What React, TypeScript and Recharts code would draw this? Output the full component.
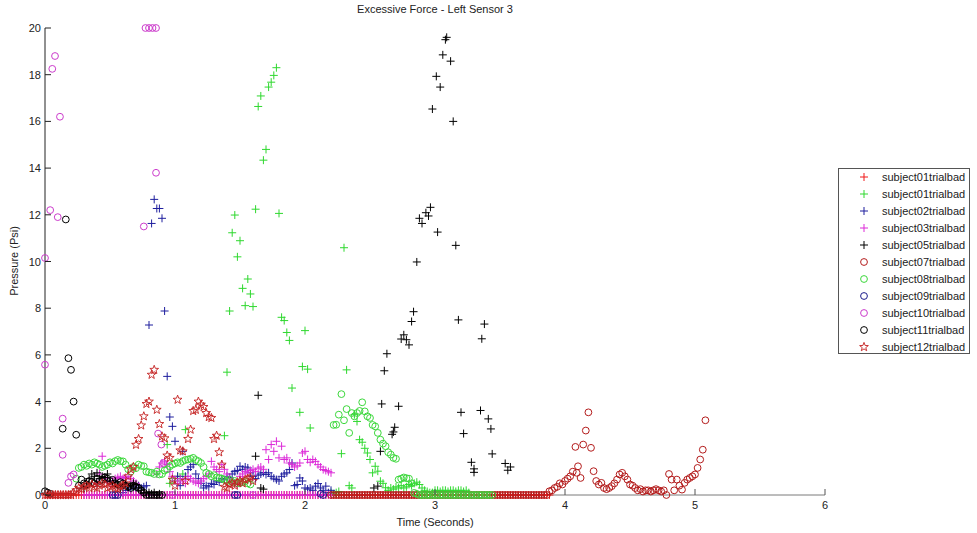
import { ScatterChart, Scatter, XAxis, YAxis } from "recharts";

// sensor sample period (s); every run below is a block of consecutive samples
const SAMPLE = 0.02;

type Run = { t0: number; psi: number[] };

const timeTicks = [0, 1, 2, 3, 4, 5, 6];
const psiTicks = [0, 2, 4, 6, 8, 10, 12, 14, 16, 18, 20];

/* ---------- subject01 (red +) ---------- */
const subject01aRuns: Run[] = [
  {
    t0: 0,
    psi: [
      0, 0, 0, 0, 0, 0, 0, 0, 0, 0, 0, 0, 0, 0, 0, 0, 0, 0, 0, 0,
      0, 0, 0, 0, 0, 0, 0, 0, 0, 0, 0, 0, 0, 0, 0, 0, 0, 0, 0, 0,
      0, 0, 0, 0, 0, 0, 0, 0, 0, 0, 0, 0, 0, 0, 0, 0, 0, 0, 0, 0,
      0, 0, 0, 0, 0, 0, 0, 0, 0, 0, 0, 0, 0, 0, 0, 0, 0, 0, 0, 0,
      0, 0, 0, 0, 0, 0, 0, 0, 0, 0, 0, 0, 0, 0, 0, 0, 0, 0, 0, 0,
      0, 0, 0, 0, 0, 0, 0, 0, 0, 0, 0, 0, 0, 0, 0, 0, 0, 0, 0, 0,
      0, 0, 0, 0, 0, 0, 0, 0, 0, 0, 0, 0, 0, 0, 0, 0, 0, 0, 0, 0,
      0, 0, 0, 0, 0, 0, 0, 0, 0, 0, 0, 0, 0, 0, 0, 0, 0, 0, 0, 0,
      0, 0, 0, 0, 0, 0, 0, 0, 0, 0, 0, 0, 0, 0, 0, 0, 0, 0, 0, 0,
      0, 0, 0, 0, 0, 0, 0, 0, 0, 0, 0, 0, 0, 0, 0,
    ],
  },
];

/* ---------- subject01 (green +) ---------- */
const subject01bRuns: Run[] = [
  { t0: 0.94, psi: [2.16, 0.5, 0.7, 0.6, 0.8, 0.7, 0.9, 2.8] },
  {
    t0: 1.38,
    psi: [
      2.54, 5.26, 7.88, 11.23, 11.99, 10.2, 10.89, 8.85, 8.11, 9.25, 8.61, 8.07,
      12.24, 16.64, 17.09, 14.34, 14.8, 17.47, 17.68, 17.97, 18.3, 12.06, 7.61,
      7.47, 6.96, 6.62, 4.58,
    ],
  },
  { t0: 1.96, psi: [3.54, 5.5, 7.04, 5.39, 2.87] },
  {
    t0: 2.2,
    psi: [
      0.1, 0.05, 0.1, 0.15, 1.77, 10.59, 5.36, 0.4, 0.3, 3.44, 3.15, 2.37, 2.26,
      2.0, 1.8, 1.52, 0.95, 1.23, 1.02, 0.59, 0.5, 0.31, 0.2, 0.3, 0.25, 0.35,
      0.3, 0.4, 0.3, 0.35, 0.45, 0.4, 0.5, 0.55, 0.45, 0.3, 0.2, 0.15, 0.1, 0.1,
      0.2, 0.2, 0.15, 0.2, 0.2, 0.15, 0.2, 0.2, 0.15, 0.2, 0.2, 0.15, 0.2, 0.1,
    ],
  },
];

/* ---------- subject02 (blue +) ---------- */
const subject02Runs: Run[] = [
  {
    t0: 0.6,
    psi: [
      0.1, 0.2, 0.3, 0.25, 0.35, 0.3, 0.4, 0.3, 0.35, 0.4, 7.28, 11.63, 12.66,
      12.27, 12.27, 11.85, 7.88, 5.08, 3.34, 2.94, 2.3, 0.8, 0.4, 1.87, 0.8,
      1.09, 1.2, 1.3, 0.9, 0.7, 0.5, 0.3, 0.4, 0.35, 0.5, 0.45, 0.6, 0.55, 0.7,
      0.65, 0.8, 0.75, 0.9, 1.0, 1.05, 1.23, 1.1, 1.2, 1.16, 0.95, 0.8, 0.7,
      0.85, 0.9, 0.96, 0.88, 0.95, 0.8, 0.72, 0.66, 0.6, 0.8, 0.9, 0.95, 1.09,
      1.37, 0.4, 0.45, 0.73, 0.6, 0.3, 0.25, 0.3, 0.2, 0.38, 0.49, 0.3, 0.2,
      0.38, 0.1, 0.2,
    ],
  },
];

/* ---------- subject03 (magenta +) ---------- */
const subject03Runs: Run[] = [
  {
    t0: 0.3,
    psi: [
      0, 0, 0, 0, 0, 0, 0, 0, 0, 0, 0, 0, 0, 0, 0, 0, 0, 0, 0, 0,
      0, 0, 0, 0, 0, 0, 0, 0, 0, 0, 0, 0, 0, 0, 0, 0, 0, 0, 0, 0,
      0, 0, 0, 0, 0, 0, 0, 0, 0, 0, 0, 0, 0, 0, 0, 0, 0, 0, 0, 0,
      0, 0, 0, 0, 0, 0, 0, 0, 0, 0, 0, 0, 0, 0, 0, 0, 0, 0, 0, 0,
      0, 0, 0, 0, 0, 0, 0, 0, 0, 0, 0, 0, 0, 0, 0, 0,
    ],
  },
  {
    t0: 0.4,
    psi: [0.5, 0.9, 1.66, 0.7, 0.6, 0.5, 0.6, 0.7, 0.75, 0.8, 0.7, 0.75, 0.8, 0.7, 0.6, 0.5],
  },
  {
    t0: 0.86,
    psi: [
      0.9, 1.2, 1.37, 1.45, 1.3, 1.0, 0.8, 0.6, 0.5, 0.7, 0.6, 0.5, 0.8, 0.7,
      0.6, 0.55, 0.5, 0.6, 0.7, 0.8, 0.9, 1.44, 1.2, 1.09, 1.0, 1.3, 1.1, 0.9,
      0.7, 0.6, 0.5, 0.45,
    ],
  },
  {
    t0: 1.5,
    psi: [
      0.8, 0.9, 1.0, 0.95, 1.05, 1.1, 1.0, 1.15, 1.2, 1.1, 1.94, 1.52, 2.16,
      1.87, 2.3, 1.59, 2.09, 1.52, 1.59, 1.37, 1.3, 1.2, 1.25, 1.37, 1.8, 1.87,
      1.52, 1.4, 1.52, 1.44, 1.3, 1.2, 1.09, 1.05, 1.0, 0.95,
    ],
  },
];

/* ---------- subject05 (black +) ---------- */
const subject05Runs: Run[] = [
  {
    t0: 0.3,
    psi: [
      0.3, 0.5, 0.7, 0.9, 0.8, 0.95, 0.7, 0.8, 0.75, 0.9, 0.6, 0.5, 0.55, 0.4,
      0.3, 0.45, 0.5, 0.35, 0.4, 0.5, 0.45, 0.3, 0.2, 0.1, 0.05, 0.1, 0.05, 0.1,
      0, 0.05,
    ],
  },
  { t0: 1.62, psi: [1.66, 4.27, 0.3, 0.25] },
  { t0: 2.53, psi: [0.3] },
  { t0: 2.56, psi: [0.38, 1.87] },
  { t0: 2.59, psi: [3.9, 5.32, 6.05] },
  { t0: 2.67, psi: [2.6, 2.9] },
  { t0: 2.68, psi: [2.7] },
  { t0: 2.72, psi: [3.8, 6.68, 6.86, 6.65, 6.43, 7.43] },
  { t0: 2.835, psi: [7.85] },
  { t0: 2.86, psi: [9.98, 11.85, 11.63] },
  { t0: 2.93, psi: [12.09, 11.95] },
  { t0: 2.965, psi: [12.32] },
  { t0: 2.98, psi: [16.53] },
  { t0: 3.01, psi: [17.93] },
  { t0: 3.02, psi: [11.26] },
  { t0: 3.04, psi: [17.47, 18.85, 19.5] },
  { t0: 3.09, psi: [19.6] },
  { t0: 3.12, psi: [18.58, 16.0, 10.69, 7.5, 3.54, 2.63] },
  { t0: 3.28, psi: [1.4, 1.12] },
  { t0: 3.3, psi: [0.97] },
  { t0: 3.35, psi: [3.62] },
  { t0: 3.36, psi: [6.69] },
  { t0: 3.38, psi: [7.32] },
  { t0: 3.41, psi: [3.26, 2.83] },
  { t0: 3.44, psi: [1.76] },
  { t0: 3.54, psi: [1.35, 1.06, 1.2] },
];

/* ---------- subject07 (dark red o) ---------- */
const subject07Runs: Run[] = [
  {
    t0: 2.2,
    psi: [
      0, 0, 0, 0, 0, 0, 0, 0, 0, 0, 0, 0, 0, 0, 0, 0, 0, 0, 0, 0,
      0, 0, 0, 0, 0, 0, 0, 0, 0, 0, 0, 0, 0, 0, 0, 0, 0, 0, 0, 0,
      0, 0, 0, 0, 0, 0, 0, 0, 0, 0, 0, 0, 0, 0, 0, 0, 0, 0, 0, 0,
      0, 0, 0, 0, 0, 0, 0, 0, 0, 0, 0, 0, 0, 0, 0, 0, 0, 0, 0, 0,
      0, 0, 0, 0,
    ],
  },
  {
    t0: 3.88,
    psi: [
      0.16, 0.2, 0.3, 0.35, 0.5, 0.45, 0.6, 0.7, 0.8, 1.0, 2.06, 1.23, 0.73,
      2.16, 2.76, 3.54, 2.02, 1.02, 0.6, 0.45, 0.52, 0.3, 0.25, 0.3, 0.38, 0.5,
      0.66, 0.88, 0.95, 0.8, 0.66, 0.45, 0.4, 0.3, 0.2, 0.25, 0.15, 0.2, 0.2,
      0.15, 0.2, 0.25, 0.2, 0.15, 0.2, 0, 0.9, 0.66, 0.2, 0.66, 0.4, 0.23, 0.52,
      0.66, 0.73, 0.8, 0.88, 1.16, 1.52, 1.94, 3.2,
    ],
  },
  { t0: 4.09, psi: [0.95] },
];

/* ---------- subject08 (green o) ---------- */
const subject08Runs: Run[] = [
  {
    t0: 0.24,
    psi: [
      0.7, 1.16, 1.2, 1.3, 1.25, 1.35, 1.3, 1.4, 1.35, 1.3, 1.2, 1.25, 1.3, 1.4,
      1.35, 1.45, 1.5, 1.45, 1.44, 1.3, 1.1, 1.0, 1.2, 1.15, 1.3, 1.25, 1.23,
      1.0, 0.97, 0.95, 0.9, 1.0, 0.88, 0.9, 1.05, 1.1, 1.23, 1.3, 1.35, 1.4,
      1.37, 1.45, 1.5, 1.52, 1.55, 1.59, 1.5, 1.45, 1.37, 1.2, 0.95, 0.9, 0.8,
      0.85, 0.75, 0.73, 0.7, 0.65, 0.6, 0.65, 0.55, 0.6, 0.5, 0.52, 0.55, 0.59,
      0.5, 0.45,
    ],
  },
  {
    t0: 2.22,
    psi: [
      3.0, 3.01, 3.44, 4.32, 3.2, 3.68, 2.66, 3.51, 3.37, 3.51, 3.6, 3.97, 3.58,
      3.37, 3.3, 3.0, 2.94, 2.66, 2.37, 2.2, 2.09, 1.83, 1.73, 1.59, 1.55,
    ],
  },
  { t0: 2.72, psi: [0.66, 0.7, 0.75, 0.72, 0.7, 0.5, 0.09, 0.05] },
  {
    t0: 2.88,
    psi: [
      0, 0, 0, 0, 0, 0, 0, 0, 0, 0, 0, 0, 0, 0, 0, 0, 0, 0, 0, 0,
      0, 0, 0, 0, 0, 0, 0, 0, 0,
    ],
  },
];

/* ---------- subject09 (navy o) ---------- */
const subject09Runs: Run[] = [
  { t0: 0.52, psi: [0, 0, 0] },
  { t0: 1.46, psi: [0, 0] },
  { t0: 2.12, psi: [0.05, 0] },
];

/* ---------- subject10 (magenta o) ---------- */
const subject10Runs: Run[] = [
  { t0: 0, psi: [5.58] },
  { t0: 0, psi: [10.15] },
  { t0: 0.04, psi: [12.2] },
  { t0: 0.056, psi: [18.25] },
  { t0: 0.077, psi: [18.8] },
  { t0: 0.098, psi: [11.9] },
  { t0: 0.115, psi: [16.2] },
  { t0: 0.136, psi: [3.27] },
  { t0: 0.136, psi: [1.72] },
  { t0: 0.18, psi: [0.52, 0.8, 0.88] },
  { t0: 0.76, psi: [11.5] },
  { t0: 0.773, psi: [20] },
  { t0: 0.8, psi: [20] },
  { t0: 0.827, psi: [20] },
  { t0: 0.854, psi: [20] },
  { t0: 0.854, psi: [13.8] },
  { t0: 0.87, psi: [2.63] },
  { t0: 0.895, psi: [2.16] },
  { t0: 0.91, psi: [1.37] },
  { t0: 0.98, psi: [0] },
  { t0: 1.6, psi: [0] },
];

/* ---------- subject11 (black o) ---------- */
const subject11Runs: Run[] = [
  { t0: 0, psi: [0.16, 0.1, 0.05] },
  { t0: 0.136, psi: [2.84] },
  { t0: 0.16, psi: [11.8, 5.86, 5.36, 4.0, 2.58] },
  {
    t0: 0.26,
    psi: [
      0.4, 0.66, 0.5, 0.45, 0.6, 0.55, 0.5, 0.7, 0.6, 0.65, 0.75, 0.7, 0.6,
      0.65, 0.5, 0.45, 0.55, 0.5, 0.4, 0.35, 0.3, 0.4, 0.35, 0.3, 0.2, 0.1, 0,
      0, 0, 0, 0, 0, 0,
    ],
  },
];

/* ---------- subject12 (red star) ---------- */
const subject12Runs: Run[] = [
  {
    t0: 0,
    psi: [
      0, 0, 0, 0, 0, 0, 0, 0, 0, 0, 0, 0.1, 0.2, 0.3, 0.25, 0.35, 0.4, 0.3,
      0.45, 0.35, 0.3, 0.4, 0.5, 0.45, 0.3, 0.35, 0.4, 0.3, 0.25, 0.35, 0.4,
      0.5, 0.8, 1.1, 1.2, 2.15, 2.4, 2.98, 3.37, 3.9, 4.0, 5.15, 5.36, 3.65,
      3.04, 2.51, 2.43, 1.69, 1.59, 0.66, 0.4, 4.08, 1.91, 1.87, 0.6, 2.4, 2.8,
      3.6, 3.65, 4.0, 3.87, 3.77, 3.51, 3.34, 3.3, 2.4, 2.54, 1.83, 1.3, 0.35,
      0.3, 0.45, 0.5, 0.4, 0.55, 0.6, 0.5, 0.65, 0.7, 0.75, 0.6,
    ],
  },
];

type Marker = "plus" | "circle" | "star";

const series: { name: string; runs: Run[]; marker: Marker; color: string }[] = [
  { name: "subject01trialbad", runs: subject01aRuns, marker: "plus", color: "#f01818" },
  { name: "subject01trialbad", runs: subject01bRuns, marker: "plus", color: "#2ed82e" },
  { name: "subject02trialbad", runs: subject02Runs, marker: "plus", color: "#1e1e9e" },
  { name: "subject03trialbad", runs: subject03Runs, marker: "plus", color: "#dc2ad8" },
  { name: "subject05trialbad", runs: subject05Runs, marker: "plus", color: "#000000" },
  { name: "subject07trialbad", runs: subject07Runs, marker: "circle", color: "#b41c1c" },
  { name: "subject08trialbad", runs: subject08Runs, marker: "circle", color: "#3cd83c" },
  { name: "subject09trialbad", runs: subject09Runs, marker: "circle", color: "#1c1c8c" },
  { name: "subject10trialbad", runs: subject10Runs, marker: "circle", color: "#cc3ccc" },
  { name: "subject11trialbad", runs: subject11Runs, marker: "circle", color: "#000000" },
  { name: "subject12trialbad", runs: subject12Runs, marker: "star", color: "#c42020" },
];

const toPoints = (runs: Run[]) =>
  runs.flatMap((r) => r.psi.map((p, i) => ({ t: +(r.t0 + i * SAMPLE).toFixed(3), p })));

const FONT = '"Liberation Sans", Arial, sans-serif';

// pentagram outline, matlab 'p' marker
function starPath(cx: number, cy: number, R = 4.6, r = 1.9) {
  let d = "";
  for (let k = 0; k < 10; k++) {
    const rad = k % 2 === 0 ? R : r;
    const a = -Math.PI / 2 + (k * Math.PI) / 5;
    d += (k === 0 ? "M" : "L") + (cx + rad * Math.cos(a)).toFixed(2) + "," + (cy + rad * Math.sin(a)).toFixed(2);
  }
  return d + "Z";
}

function MarkerGlyph({ marker, color, cx, cy }: { marker: Marker; color: string; cx: number; cy: number }) {
  if (marker === "plus")
    return <path d={`M${cx - 4},${cy}h8M${cx},${cy - 4}v8`} stroke={color} strokeWidth={1} fill="none" />;
  if (marker === "circle")
    return <circle cx={cx} cy={cy} r={3.4} stroke={color} strokeWidth={1} fill="none" />;
  return <path d={starPath(cx, cy)} stroke={color} strokeWidth={0.9} fill="none" />;
}

const makeShape = (marker: Marker, color: string) => (props: any) =>
  props.cx == null ? <g /> : <MarkerGlyph marker={marker} color={color} cx={props.cx} cy={props.cy} />;

// ticks drawn inward from the axis line
function YTick(props: any) {
  const { x, y, payload } = props;
  return (
    <g>
      <line x1={x} x2={x + 6} y1={y} y2={y} stroke="#222" />
      <text x={x - 4} y={y + 4} textAnchor="end" fontSize={11} fontFamily={FONT} fill="#222">
        {payload.value}
      </text>
    </g>
  );
}

function XTick(props: any) {
  const { x, y, payload } = props;
  return (
    <g>
      <line x1={x} x2={x} y1={y} y2={y - 6} stroke="#555" />
      <text x={x} y={y + 14} textAnchor="middle" fontSize={11} fontFamily={FONT} fill="#222">
        {payload.value}
      </text>
    </g>
  );
}

export default function App() {
  return (
    <div style={{ position: "fixed", left: 0, top: 0, width: 977, height: 533, background: "#fff", fontFamily: FONT }}>
      <ScatterChart width={977} height={533} margin={{ top: 28, right: 152, bottom: 0, left: 0 }}>
        <XAxis
          type="number"
          dataKey="t"
          domain={[0, 6]}
          ticks={timeTicks}
          height={38}
          tickSize={0}
          tickMargin={0}
          tickLine={false}
          tick={<XTick />}
          axisLine={{ stroke: "#7a7a7a" }}
        />
        <YAxis
          type="number"
          dataKey="p"
          domain={[0, 20]}
          ticks={psiTicks}
          width={45}
          tickSize={0}
          tickMargin={0}
          tickLine={false}
          tick={<YTick />}
          axisLine={{ stroke: "#222" }}
        />
        {series.map((s, i) => (
          <Scatter
            key={i}
            name={s.name}
            data={toPoints(s.runs)}
            shape={makeShape(s.marker, s.color)}
            isAnimationActive={false}
          />
        ))}
      </ScatterChart>

      <div style={{ position: "absolute", left: 0, width: 870, top: 3, textAlign: "center", fontSize: 11, color: "#222" }}>
        Excessive Force - Left Sensor 3
      </div>
      <div style={{ position: "absolute", left: 0, width: 870, top: 516, textAlign: "center", fontSize: 11, color: "#222" }}>
        Time (Seconds)
      </div>
      <div
        style={{
          position: "absolute",
          left: 14,
          top: 261,
          transform: "translate(-50%, -50%) rotate(-90deg)",
          fontSize: 11,
          color: "#222",
          whiteSpace: "nowrap",
        }}
      >
        Pressure (Psi)
      </div>

      <div
        style={{
          position: "absolute",
          left: 838,
          top: 168,
          width: 132,
          height: 186,
          border: "1px solid #555",
          background: "#fff",
          boxSizing: "border-box",
        }}
      >
        {series.map((s, i) => (
          <div key={i} style={{ position: "absolute", left: 0, top: 1 + i * 17, height: 14, display: "flex", alignItems: "center" }}>
            <svg width={40} height={14} style={{ display: "block" }}>
              <MarkerGlyph marker={s.marker} color={s.color} cx={25} cy={7} />
            </svg>
            <span style={{ fontSize: 11, color: "#222", marginLeft: 3 }}>{s.name}</span>
          </div>
        ))}
      </div>
    </div>
  );
}
